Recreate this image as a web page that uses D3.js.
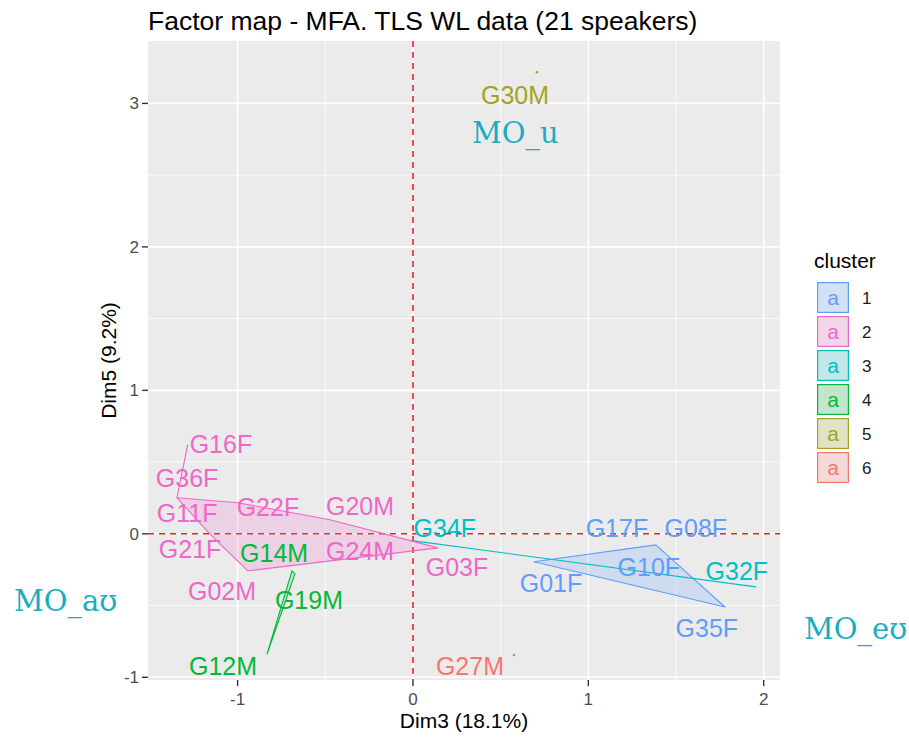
<!DOCTYPE html>
<html>
<head>
<meta charset="utf-8">
<script src="https://cdn.jsdelivr.net/npm/d3@7"></script>
<style>
  html, body { margin: 0; padding: 0; background: #fff; }
  svg { display: block; }
</style>
</head>
<body>
<script>
// ---------------- data ----------------
const chartTitle = "Factor map - MFA. TLS WL data (21 speakers)";
const xAxisTitle = "Dim3 (18.1%)";
const yAxisTitle = "Dim5 (9.2%)";
const legendTitle = "cluster";
const clusters = ["1", "2", "3", "4", "5", "6"];
const clusterColors = ["#619CFF", "#EF67C8", "#00BFC4", "#00BA38", "#A3A520", "#F8766D"];

const speakers = ["G16F","G36F","G11F","G22F","G20M","G21F","G24M","G02M","G03F",
                  "G01F","G08F","G17F","G10F","G35F",
                  "G34F","G32F",
                  "G14M","G19M","G12M",
                  "G30M",
                  "G27M"];
const speakerCluster = ["2","2","2","2","2","2","2","2","2",
                        "1","1","1","1","1",
                        "3","3",
                        "4","4","4",
                        "5",
                        "6"];
const dim3 = [-1.346,-1.300,-1.169,-0.998,-0.473,-1.089,-0.302,-0.941,0.143,
              0.690,1.385,1.066,1.437,1.779,
              0.006,1.955,
              -0.690,-0.673,-0.832,
              0.707,
              0.576];
const dim5 = [0.251,0.195,0.014,0.216,0.098,-0.084,-0.042,-0.258,-0.098,
              -0.195,-0.077,-0.182,-0.286,-0.510,
              -0.049,-0.370,
              -0.258,-0.279,-0.838,
              3.218,
              -0.845];
// repelled label positions (data units)
const labelDim3 = [-1.095,-1.288,-1.288,-0.827,-0.302,-1.271,-0.302,-1.089,0.251,
                   0.787,1.613,1.163,1.345,1.676,
                   0.182,1.847,
                   -0.792,-0.593,-1.083,
                   0.582,
                   0.325];
const labelDim5 = [0.628,0.391,0.147,0.188,0.195,-0.105,-0.119,-0.398,-0.230,
                   -0.342,0.042,0.042,-0.230,-0.656,
                   0.042,-0.258,
                   -0.133,-0.461,-0.921,
                   3.058,
                   -0.921];
// labels that keep a connector segment to their point
const segmentSpeakers = ["G16F"];
const xTicks = [-1, 0, 1, 2];
const yTicks = [-1, 0, 1, 2, 3];
const xMinor = [-0.5, 0.5, 1.5];
const yMinor = [-0.5, 0.5, 1.5, 2.5];
const annotations = ["MO_u", "MO_aʊ", "MO_eʊ"];

// ---------------- layout ----------------
const W = 909, H = 740;
const panel = { left: 148, right: 780, top: 41, bottom: 680 };
const xDomain = [-1.511, 2.093];
const yDomain = [-1.019, 3.435];

const svg = d3.select("body").append("svg").attr("width", W).attr("height", H)
  .style("font-family", "'Liberation Sans', Arial, sans-serif");

const x = d3.scaleLinear().domain(xDomain).range([panel.left, panel.right]);
const y = d3.scaleLinear().domain(yDomain).range([panel.bottom, panel.top]);
const color = d3.scaleOrdinal().domain(clusters).range(clusterColors);

// panel background
svg.append("rect").attr("x", panel.left).attr("y", panel.top)
  .attr("width", panel.right - panel.left).attr("height", panel.bottom - panel.top)
  .attr("fill", "#EBEBEB");

const grid = svg.append("g");
grid.selectAll(".xminor").data(xMinor).join("line")
  .attr("x1", d => x(d)).attr("x2", d => x(d)).attr("y1", panel.top).attr("y2", panel.bottom)
  .attr("stroke", "#fff").attr("stroke-width", 0.8);
grid.selectAll(".yminor").data(yMinor).join("line")
  .attr("y1", d => y(d)).attr("y2", d => y(d)).attr("x1", panel.left).attr("x2", panel.right)
  .attr("stroke", "#fff").attr("stroke-width", 0.8);
grid.selectAll(".xmajor").data(xTicks).join("line")
  .attr("x1", d => x(d)).attr("x2", d => x(d)).attr("y1", panel.top).attr("y2", panel.bottom)
  .attr("stroke", "#fff").attr("stroke-width", 1.6);
grid.selectAll(".ymajor").data(yTicks).join("line")
  .attr("y1", d => y(d)).attr("y2", d => y(d)).attr("x1", panel.left).attr("x2", panel.right)
  .attr("stroke", "#fff").attr("stroke-width", 1.6);

// dashed zero lines
svg.append("line").attr("x1", x(0)).attr("x2", x(0)).attr("y1", panel.top).attr("y2", panel.bottom)
  .attr("stroke", "#E8222A").attr("stroke-width", 1.6).attr("stroke-dasharray", "6,5");
svg.append("line").attr("y1", y(0)).attr("y2", y(0)).attr("x1", panel.left).attr("x2", panel.right)
  .attr("stroke", "#E8222A").attr("stroke-width", 1.6).attr("stroke-dasharray", "6,5");

// points table
const pts = speakers.map((s, i) => ({
  name: s, cluster: speakerCluster[i], px: x(dim3[i]), py: y(dim5[i]),
  lx: x(labelDim3[i]), ly: y(labelDim5[i])
}));

// hulls
const hullG = svg.append("g");
clusters.forEach(c => {
  const cp = pts.filter(p => p.cluster === c).map(p => [p.px, p.py]);
  let poly = cp.length >= 3 ? d3.polygonHull(cp) : cp;
  let d;
  if (poly.length === 1) d = `M${poly[0][0]},${poly[0][1]}l0.01,0`;
  else d = "M" + poly.map(p => p.join(",")).join("L") + "Z";
  hullG.append("path").attr("d", d)
    .attr("fill", color(c)).attr("fill-opacity", poly.length >= 3 ? 0.2 : 0)
    .attr("stroke", color(c)).attr("stroke-width", poly.length === 1 ? 2.5 : 1.1)
    .attr("stroke-linecap", "round").attr("stroke-linejoin", "round");
});

// labels
const labelSel = svg.append("g").selectAll("text").data(pts).join("text")
  .attr("x", d => d.lx).attr("y", d => d.ly + 9)
  .attr("text-anchor", "middle")
  .attr("font-size", 25)
  .attr("fill", d => color(d.cluster))
  .text(d => d.name);

// connector segments (from nearest point of label box to the data point)
labelSel.each(function(d) {
  if (!segmentSpeakers.includes(d.name)) return;
  const b = this.getBBox();
  const x0 = b.x, x1 = b.x + b.width, y0 = d.ly - 9, y1 = d.ly + 9;
  const sx = Math.max(x0, Math.min(x1, d.px)) - 2;
  const sy = Math.max(y0, Math.min(y1, d.py)) - 8;
  svg.append("line").attr("x1", sx).attr("y1", sy).attr("x2", d.px).attr("y2", d.py)
    .attr("stroke", color(d.cluster)).attr("stroke-width", 1.1);
});

// axes ticks
const axisG = svg.append("g");
axisG.selectAll(".xt").data(xTicks).join("line")
  .attr("x1", d => x(d)).attr("x2", d => x(d)).attr("y1", panel.bottom).attr("y2", panel.bottom + 6)
  .attr("stroke", "#333").attr("stroke-width", 1.4);
axisG.selectAll(".xl").data(xTicks).join("text")
  .attr("x", d => x(d)).attr("y", panel.bottom + 25)
  .attr("text-anchor", "middle").attr("font-size", 17).attr("fill", "#4D4D4D")
  .text(d => d);
axisG.selectAll(".yt").data(yTicks).join("line")
  .attr("y1", d => y(d)).attr("y2", d => y(d)).attr("x1", panel.left - 6).attr("x2", panel.left)
  .attr("stroke", "#333").attr("stroke-width", 1.4);
axisG.selectAll(".yl").data(yTicks).join("text")
  .attr("x", panel.left - 9).attr("y", d => y(d) + 6)
  .attr("text-anchor", "end").attr("font-size", 17).attr("fill", "#4D4D4D")
  .text(d => d);

// axis titles
svg.append("text").attr("x", (panel.left + panel.right) / 2).attr("y", 728)
  .attr("text-anchor", "middle").attr("font-size", 21).attr("fill", "#000").text(xAxisTitle);
svg.append("text").attr("transform", `translate(116,${(panel.top + panel.bottom) / 2}) rotate(-90)`)
  .attr("text-anchor", "middle").attr("font-size", 21).attr("fill", "#000").text(yAxisTitle);

// title
svg.append("text").attr("x", panel.left).attr("y", 30)
  .attr("font-size", 26.5).attr("fill", "#000").text(chartTitle);

// legend
const lg = svg.append("g");
lg.append("text").attr("x", 814).attr("y", 268).attr("font-size", 21).attr("fill", "#000").text(legendTitle);
const keys = lg.selectAll(".key").data(clusters).join("g")
  .attr("transform", (d, i) => `translate(817,${282 + i * 34})`);
keys.append("rect").attr("width", 32).attr("height", 31).attr("fill", "#F2F2F2");
keys.append("rect").attr("x", 0.6).attr("y", 0.6).attr("width", 30.8).attr("height", 29.8)
  .attr("fill", d => color(d)).attr("fill-opacity", 0.2)
  .attr("stroke", d => color(d)).attr("stroke-width", 1.2);
keys.append("text").attr("x", 16).attr("y", 23).attr("text-anchor", "middle")
  .attr("font-size", 21).attr("fill", d => color(d)).text("a");
keys.append("text").attr("x", 45).attr("y", 22).attr("font-size", 17).attr("fill", "#1a1a1a").text(d => d);

// annotations
const annPos = [[472, 143], [14, 611], [804, 639]];
svg.append("g").selectAll("text").data(annotations).join("text")
  .attr("x", (d, i) => annPos[i][0]).attr("y", (d, i) => annPos[i][1])
  .attr("font-family", "'DejaVu Serif', 'Liberation Serif', serif")
  .attr("font-size", 29).attr("fill", "#18AEBE")
  .text(d => d);
</script>
</body>
</html>
